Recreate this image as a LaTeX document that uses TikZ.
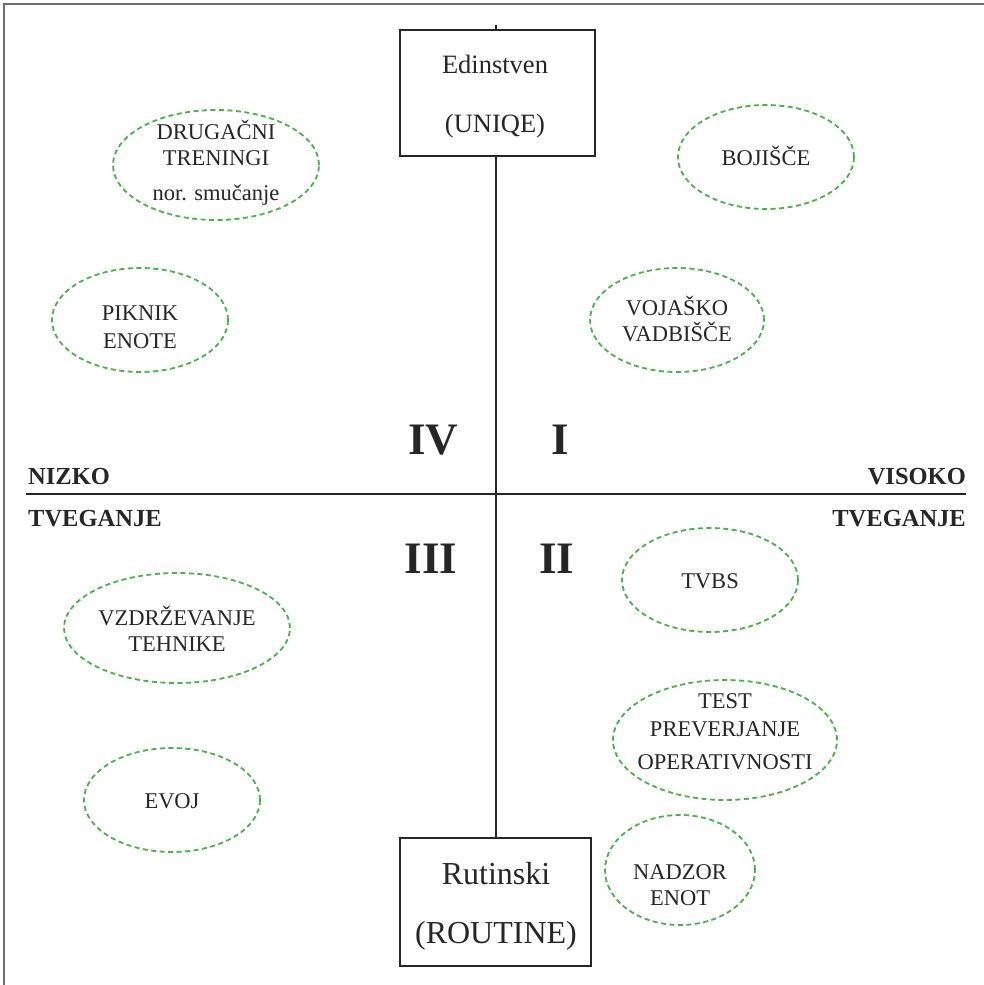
\documentclass[tikz,border=0pt]{standalone}
\usepackage{fontspec}
\setmainfont{Liberation Serif}
\usetikzlibrary{shapes.geometric}
\definecolor{dgreen}{RGB}{72,178,72}
\definecolor{frame}{RGB}{110,110,110}
\begin{document}
\begin{tikzpicture}[x=1pt,y=-1pt,
  oval/.style={ellipse,draw=dgreen,line width=1.8pt,dash pattern=on 5pt off 3.5pt,inner sep=0pt},
  otext/.style={anchor=base,align=center,inner sep=0pt,text=black!85,font=\fontsize{22.5}{26}\selectfont},
  bigbox/.style={rectangle,draw=black!85,line width=2pt,fill=white,inner sep=0pt},
  btext/.style={anchor=base,align=center,inner sep=0pt,text=black!85},
  quad/.style={anchor=base,inner sep=0pt,font=\bfseries\fontsize{45}{45}\selectfont,text=black!85},
  risk/.style={font=\bfseries\fontsize{24.5}{24.5}\selectfont,text=black!85,inner sep=0pt}]
\useasboundingbox (0,0) rectangle (984,985);
\fill[white] (0,0) rectangle (984,985);
% frame
\draw[frame,line width=2pt] (4,990) -- (4,4) -- (990,4);
% axes
\coordinate (vtop) at (496,25);
\coordinate (vbot) at (496,838);
\coordinate (hl) at (26,494);
\coordinate (hr) at (966,494);
\draw[black!85,line width=1.8pt] (vtop) -- (vbot);
\draw[black!85,line width=1.8pt] (hl) -- (hr);
% boxes (text nodes anchored at the baseline of their last line)
\node[bigbox,minimum width=195,minimum height=126] (uniq) at (497.5,93) {};
\node[btext,font=\fontsize{26.5}{59}\selectfont] (uniqt) at (495,132) {Edinstven\\(UNIQE)};
\node[bigbox,minimum width=191,minimum height=128] (rout) at (495.5,902) {};
\node[btext,font=\fontsize{32}{59}\selectfont] (routt) at (496,943) {Rutinski\\(ROUTINE)};
% quadrant labels
\node[quad] (q4) at (433,454) {IV};
\node[quad] (q1) at (560,454) {I};
\node[quad] (q3) at (431,573) {III};
\node[quad] (q2) at (557,573) {II};
% risk labels
\node[risk,anchor=base west] (nizko) at (28,484) {NIZKO};
\node[risk,anchor=base west] (tvl) at (28,526) {TVEGANJE};
\node[risk,anchor=base east] (visoko) at (966,484) {VISOKO};
\node[risk,anchor=base east] (tvr) at (966,526) {TVEGANJE};
% ellipses
\node[oval,minimum width=206,minimum height=110] (drug) at (216,165) {};
\node[otext] (drugt) at (216,200) {DRUGAČNI\\TRENINGI\\[9pt]nor. smučanje};
\node[oval,minimum width=176,minimum height=104] (piknik) at (140,320) {};
\node[otext] (piknikt) at (140,348) {PIKNIK\\[2pt]ENOTE};
\node[oval,minimum width=176,minimum height=104] (boj) at (766,157) {};
\node[otext] (bojt) at (766,165) {BOJIŠČE};
\node[oval,minimum width=174,minimum height=104] (voj) at (677,320) {};
\node[otext] (vojt) at (677,341) {VOJAŠKO\\VADBIŠČE};
\node[oval,minimum width=176,minimum height=104] (tvbs) at (710,580) {};
\node[otext] (tvbst) at (710,588) {TVBS};
\node[oval,minimum width=226,minimum height=110] (vzdr) at (177,628) {};
\node[otext] (vzdrt) at (177,651) {VZDRŽEVANJE\\TEHNIKE};
\node[oval,minimum width=224,minimum height=120] (test) at (725,740) {};
\node[otext] (testt) at (725,769) {TEST\\[2pt]PREVERJANJE\\[7pt]OPERATIVNOSTI};
\node[oval,minimum width=176,minimum height=104] (evoj) at (172,800) {};
\node[otext] (evojt) at (172,808) {EVOJ};
\node[oval,minimum width=150,minimum height=110] (nadz) at (680,870) {};
\node[otext] (nadzt) at (680,905) {NADZOR\\ENOT};
\end{tikzpicture}
\end{document}
